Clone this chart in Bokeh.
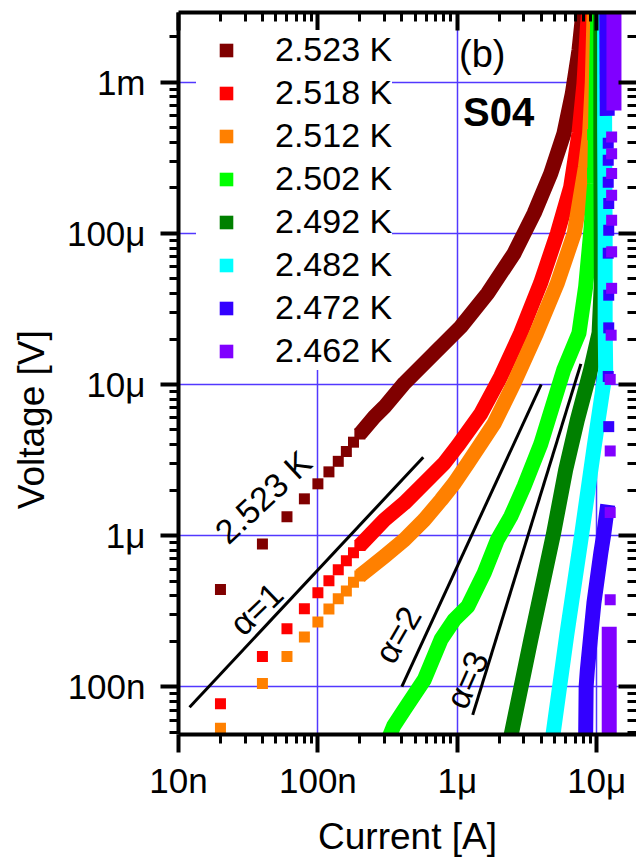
import math
from bokeh.plotting import figure
from bokeh.models import (Range1d, FixedTicker, CustomJSTickFormatter, LogAxis,
                          Legend, LegendItem, Label)
from bokeh.embed import file_html
from bokeh.resources import INLINE

FONT = "Liberation Sans"

# ---------------- data ----------------
temps = ["2.523 K", "2.518 K", "2.512 K", "2.502 K", "2.492 K", "2.482 K", "2.472 K", "2.462 K"]
colors = ["#800000", "#ff0000", "#ff8000", "#00ff00", "#008000", "#00ffff", "#3300ff", "#8000ff"]

# 2.523 K
i_2523_pts = [2e-8, 4e-8, 6e-8, 8e-8, 1.0e-7, 1.2e-7, 1.4e-7, 1.6e-7, 1.8e-7, 2.0e-7]
v_2523_pts = [4.4e-7, 8.8e-7, 1.33e-6, 1.75e-6, 2.2e-6, 2.64e-6, 3.1e-6, 3.6e-6, 4.15e-6, 4.7e-6]
i_2523_band = [2.0e-7, 2.54e-7, 3.0e-7, 4.17e-7, 6.84e-7, 1.06e-6, 1.65e-6, 2.55e-6, 3.56e-6,
               4.68e-6, 5.82e-6, 6.68e-6, 7.46e-6, 7.9e-6, 8.1e-6]
v_2523_band = [4.7e-6, 6.1e-6, 7.1e-6, 1.02e-5, 1.61e-5, 2.41e-5, 4.01e-5, 7.36e-5, 1.36e-4,
               2.49e-4, 4.58e-4, 8.4e-4, 1.63e-3, 2.7e-3, 3.2e-3]

# 2.518 K
i_2518_pts = [2e-8, 4e-8, 6e-8, 8e-8, 1.0e-7, 1.2e-7, 1.4e-7, 1.6e-7, 1.8e-7, 2.0e-7]
v_2518_pts = [7.7e-8, 1.58e-7, 2.42e-7, 3.28e-7, 4.18e-7, 5.02e-7, 5.94e-7, 6.8e-7, 7.7e-7, 8.6e-7]
i_2518_band = [2.0e-7, 3.0e-7, 4.17e-7, 5.79e-7, 8.05e-7, 1.0e-6, 1.48e-6, 2.05e-6, 2.85e-6,
               3.96e-6, 5.22e-6, 6.5e-6, 7.46e-6, 8.1e-6, 8.57e-6, 8.8e-6]
v_2518_band = [8.6e-7, 1.27e-6, 1.64e-6, 2.22e-6, 3.01e-6, 3.9e-6, 6.45e-6, 1.13e-5, 2.19e-5,
               4.69e-5, 1.0e-4, 2.02e-4, 4.6e-4, 9.8e-4, 2.31e-3, 3.2e-3]

# 2.512 K
i_2512_pts = [2e-8, 4e-8, 6e-8, 8e-8, 1.0e-7, 1.2e-7, 1.4e-7, 1.6e-7, 1.8e-7, 2.0e-7]
v_2512_pts = [5.3e-8, 1.05e-7, 1.58e-7, 2.13e-7, 2.68e-7, 3.27e-7, 3.82e-7, 4.3e-7, 4.9e-7, 5.4e-7]
i_2512_band = [2.0e-7, 2.28e-7, 3.0e-7, 4.17e-7, 5.79e-7, 7.64e-7, 9.51e-7, 1.19e-6, 1.48e-6,
               1.84e-6, 2.17e-6, 2.55e-6, 3.7e-6, 5.22e-6, 6.9e-6, 8.3e-6, 8.9e-6, 9.3e-6, 9.6e-6]
v_2512_band = [5.4e-7, 5.94e-7, 7.28e-7, 9.37e-7, 1.27e-6, 1.72e-6, 2.22e-6, 3.01e-6, 4.08e-6,
               5.53e-6, 7.52e-6, 1.02e-5, 2.19e-5, 4.69e-5, 1.0e-4, 2.75e-4, 4.6e-4, 1.0e-3, 3.2e-3]

# 2.502 K
i_2502_pts = [9.35e-6, 9.35e-6, 9.5e-6]
v_2502_pts = [4.5e-4, 2.5e-4, 1.6e-4]
i_2502_band = [3.2e-7, 3.5e-7, 4.17e-7, 5.79e-7, 7.64e-7, 9.51e-7, 1.19e-6, 1.56e-6, 1.94e-6,
               2.42e-6, 3.01e-6, 3.96e-6, 5.8e-6, 7.46e-6, 8.33e-6, 9.04e-6, 9.66e-6, 9.95e-6, 1.02e-5]
v_2502_band = [4.5e-8, 5.5e-8, 7.05e-8, 1.11e-7, 2.05e-7, 2.77e-7, 3.4e-7, 5.65e-7, 9.37e-7,
               1.34e-6, 2.11e-6, 4.0e-6, 1.25e-5, 2.19e-5, 4.43e-5, 1.0e-4, 2.14e-4, 1.0e-3, 3.2e-3]

# 2.492 K
i_2492_pts = [1.1e-5, 1.09e-5, 1.1e-5]
v_2492_pts = [6.0e-5, 8.0e-5, 1.1e-4]
i_2492_band = [2.4e-6, 3.37e-6, 4.87e-6, 5.99e-6, 7.26e-6, 9.04e-6, 1.04e-5, 1.08e-5, 1.07e-5, 1.07e-5]
v_2492_band = [4.5e-8, 2.05e-7, 1.0e-6, 2.72e-6, 5.82e-6, 1.25e-5, 2.19e-5, 4.69e-5, 4.0e-4, 3.2e-3]

# 2.482 K
i_2482_pts = [1.16e-5, 1.15e-5, 1.16e-5, 1.15e-5]
v_2482_pts = [3.0e-5, 5.5e-5, 1.4e-4, 3.0e-4]
i_2482_band = [4.81e-6, 6.1e-6, 7.78e-6, 9.6e-6, 1.16e-5, 1.15e-5, 1.15e-5, 1.14e-5, 1.14e-5]
v_2482_band = [4.5e-8, 2.2e-7, 1.0e-6, 3.9e-6, 1.25e-5, 2.5e-5, 1.0e-4, 5.0e-4, 3.2e-3]

# 2.472 K
i_2472_pts = [1.22e-5, 1.21e-5, 1.22e-5, 1.22e-5, 1.21e-5, 1.22e-5, 1.22e-5, 1.21e-5, 1.21e-5, 1.21e-5]
v_2472_pts = [5.26e-6, 1.13e-5, 2.37e-5, 3.9e-5, 7.4e-5, 1.05e-4, 1.58e-4, 2.18e-4, 3.05e-4, 3.95e-4]
i_2472_band = [8.33e-6, 8.4e-6, 8.57e-6, 9.55e-6, 1.07e-5, 1.12e-5, 1.2e-5]
v_2472_band = [4.5e-8, 1.0e-7, 1.29e-7, 3.57e-7, 7.65e-7, 1.0e-6, 1.6e-6]
i_2472_top = [1.19e-5, 1.18e-5]
v_2472_top = [6.0e-4, 3.2e-3]

# 2.462 K
i_2462_pts = [1.25e-5, 1.25e-5, 1.25e-5, 1.25e-5, 1.27e-5, 1.28e-5, 1.28e-5, 1.28e-5,
              1.28e-5, 1.28e-5, 1.28e-5, 1.28e-5]
v_2462_pts = [3.76e-7, 1.42e-6, 3.63e-6, 1.08e-5, 2.12e-5, 4.33e-5, 7.55e-5, 1.22e-4,
              1.79e-4, 2.49e-4, 3.37e-4, 4.35e-4]
i_2462_band = [1.23e-5, 1.23e-5]
v_2462_band = [4.5e-8, 2.49e-7]
i_2462_top = [1.33e-5, 1.33e-5]
v_2462_top = [6.5e-4, 3.2e-3]

# power-law guide lines
alpha1_i = [1.2e-8, 5.7e-7]
alpha1_v = [7.3e-8, 3.3e-6]
alpha2_i = [4.0e-7, 4.0e-6]
alpha2_v = [1.0e-7, 1.0e-5]
alpha3_i = [1.29e-6, 7.7e-6]
alpha3_v = [6.5e-8, 1.37e-5]

x_major = [1e-8, 1e-7, 1e-6, 1e-5]
y_major = [1e-7, 1e-6, 1e-5, 1e-4, 1e-3]

series = [
    (i_2523_pts, v_2523_pts, [(i_2523_band, v_2523_band)]),
    (i_2518_pts, v_2518_pts, [(i_2518_band, v_2518_band)]),
    (i_2512_pts, v_2512_pts, [(i_2512_band, v_2512_band)]),
    (i_2502_pts, v_2502_pts, [(i_2502_band, v_2502_band)]),
    (i_2492_pts, v_2492_pts, [(i_2492_band, v_2492_band)]),
    (i_2482_pts, v_2482_pts, [(i_2482_band, v_2482_band)]),
    (i_2472_pts, v_2472_pts, [(i_2472_band, v_2472_band), (i_2472_top, v_2472_top)]),
    (i_2462_pts, v_2462_pts, [(i_2462_band, v_2462_band), (i_2462_top, v_2462_top)]),
]

# ---------------- figure ----------------
p = figure(width=636, height=859, x_axis_type="log", y_axis_type="log",
           x_range=Range1d(1e-8, 1.93e-5), y_range=Range1d(4.82e-8, 2.9e-3),
           output_backend="svg", toolbar_location=None,
           min_border_left=178, min_border_right=0, min_border_top=12, min_border_bottom=124,
           background_fill_color="white", border_fill_color="white", outline_line_color=None)

def minors(majors, lo, hi):
    out = []
    for m in [majors[0] / 10] + majors:
        for k in range(2, 10):
            t = m * k
            if lo <= t <= hi:
                out.append(t)
    return out

xt = FixedTicker(ticks=x_major, minor_ticks=minors(x_major, 1e-8, 1.93e-5))
yt = FixedTicker(ticks=y_major, minor_ticks=minors(y_major, 4.82e-8, 2.9e-3))

fmt = CustomJSTickFormatter(code="""
const e = Math.round(Math.log10(tick));
const p = Math.floor(e / 3) * 3;
const m = Math.round(Math.pow(10, e - p));
const pre = {"-9": "n", "-6": "\u03bc", "-3": "m", "0": ""};
return m + pre[String(p)];
""")
blank = CustomJSTickFormatter(code="return '';")

def style_axis(ax):
    ax.axis_line_width = 4
    ax.axis_line_color = "black"
    ax.major_tick_line_width = 4
    ax.minor_tick_line_width = 3
    ax.major_tick_line_color = "black"
    ax.minor_tick_line_color = "black"
    ax.major_label_text_font = FONT
    ax.major_label_text_font_size = "35px"
    ax.major_label_text_color = "black"

xa = p.xaxis[0]
ya = p.yaxis[0]
for ax, t in ((xa, xt), (ya, yt)):
    ax.ticker = t
    ax.formatter = fmt
    style_axis(ax)
    ax.major_tick_out = 18
    ax.minor_tick_out = 9
    ax.major_tick_in = 0
    ax.minor_tick_in = 0
    ax.axis_label_text_font = FONT
    ax.axis_label_text_font_size = "37px"
    ax.axis_label_text_font_style = "normal"
    ax.axis_label_text_color = "black"
xa.major_label_standoff = 8
ya.major_label_standoff = 15
xa.axis_label = "Current [A]"
xa.axis_label_standoff = 13
# the original title sits below the middle of the axis; trailing no-break spaces shift it down
ya.axis_label = "Voltage [V]" + "\u00a0" * 9
ya.axis_label_standoff = 12

top = LogAxis(ticker=xt, formatter=blank)
right = LogAxis(ticker=yt, formatter=blank)
for ax in (top, right):
    style_axis(ax)
    ax.major_label_text_font_size = "1px"
    ax.major_label_standoff = 0
    ax.major_tick_out = 0
    ax.minor_tick_out = 0
    ax.major_tick_in = 18
    ax.minor_tick_in = 9
right.axis_line_color = None
p.add_layout(top, "above")
p.add_layout(right, "right")

for g in (p.xgrid[0], p.ygrid[0]):
    g.grid_line_color = "#5238ff"
    g.grid_line_width = 1.5

# data
legend_items = []
for (ip, vp, bands), col, lab in zip(series, colors, temps):
    for bi, bv in bands:
        p.line(bi, bv, line_color=col, line_width=15, line_join="round", line_cap="butt")
    r = p.scatter(ip, vp, marker="square", size=11, fill_color=col, line_color=None)
    legend_items.append(LegendItem(label=lab, renderers=[r]))

for li, lv in ((alpha1_i, alpha1_v), (alpha2_i, alpha2_v), (alpha3_i, alpha3_v)):
    p.line(li, lv, line_color="black", line_width=3)

# annotations
def lab(x, y, text, angle_deg, size="34px", style="normal", align="center"):
    p.add_layout(Label(x=x, y=y, text=text, angle=math.radians(angle_deg),
                       text_font=FONT, text_font_size=size, text_font_style=style,
                       text_align=align, text_baseline="middle", text_color="black"))

lab(4.05e-8, 1.8e-6, "2.523 K", 43)
lab(3.61e-8, 3.28e-7, "\u03b1=1", 44)
lab(3.74e-7, 2.21e-7, "\u03b1=2", 60)
lab(1.17e-6, 1.11e-7, "\u03b1=3", 66)
lab(1.03e-6, 1.55e-3, "(b)", 0, size="38px", align="left")
lab(1.1e-6, 6.34e-4, "S04", 0, size="40px", style="bold", align="left")

legend = Legend(items=legend_items, location="top_left", margin=18, padding=3,
                spacing=4, glyph_width=60, glyph_height=34, label_standoff=19,
                label_text_font=FONT, label_text_font_size="34px", label_text_color="black",
                background_fill_color="white", background_fill_alpha=1.0,
                border_line_color=None)
p.add_layout(legend)

open("out.html", "w").write(file_html(p, INLINE))
